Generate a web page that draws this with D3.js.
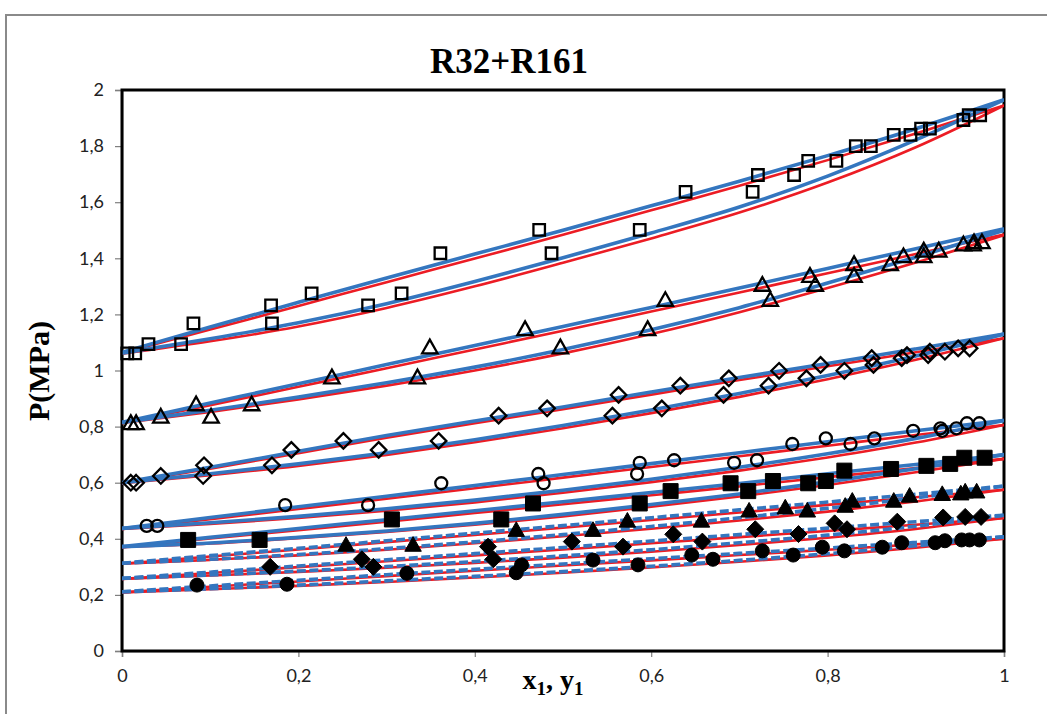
<!DOCTYPE html>
<html><head><meta charset="utf-8">
<script src="https://cdn.jsdelivr.net/npm/d3@7"></script>
<style>
html,body{margin:0;padding:0;background:#fff;}
svg{display:block;}
</style></head>
<body>
<svg id="chart" width="1047" height="714"></svg>
<script>
// ---- axis ticks ----
const xTicks = [0, 0.2, 0.4, 0.6, 0.8, 1];
const xTickLabels = ["0", "0,2", "0,4", "0,6", "0,8", "1"];
const yTicks = [0, 0.2, 0.4, 0.6, 0.8, 1, 1.2, 1.4, 1.6, 1.8, 2];
const yTickLabels = ["0", "0,2", "0,4", "0,6", "0,8", "1", "1,2", "1,4", "1,6", "1,8", "2"];

// ---- composition grid of the model curves (mole fraction R32) ----
const xGrid = [0, 0.1, 0.2, 0.3, 0.4, 0.5, 0.6, 0.7, 0.8, 0.9, 1.0];

// ---- model curves, blue model: bubble (upper) and dew (lower), P in MPa ----
const bubBlue1 = [1.065, 1.155, 1.243, 1.330, 1.415, 1.500, 1.587, 1.675, 1.766, 1.862, 1.965];
const dewBlue1 = [1.062, 1.113, 1.170, 1.238, 1.317, 1.402, 1.490, 1.583, 1.693, 1.822, 1.965];
const bubBlue2 = [0.815, 0.884, 0.953, 1.021, 1.089, 1.157, 1.225, 1.294, 1.364, 1.434, 1.505];
const dewBlue2 = [0.815, 0.858, 0.905, 0.956, 1.012, 1.075, 1.145, 1.224, 1.312, 1.404, 1.500];
const bubBlue3 = [0.600, 0.655, 0.712, 0.768, 0.820, 0.870, 0.923, 0.975, 1.025, 1.077, 1.130];
const dewBlue3 = [0.600, 0.632, 0.667, 0.707, 0.753, 0.804, 0.859, 0.918, 0.982, 1.052, 1.130];
const bubBlue4 = [0.437, 0.476, 0.514, 0.552, 0.590, 0.629, 0.668, 0.707, 0.746, 0.785, 0.822];
const dewBlue4 = [0.437, 0.457, 0.480, 0.507, 0.538, 0.573, 0.612, 0.655, 0.703, 0.758, 0.822];
const bubBlue5 = [0.372, 0.405, 0.437, 0.468, 0.500, 0.532, 0.565, 0.597, 0.632, 0.665, 0.700];
const dewBlue5 = [0.372, 0.385, 0.405, 0.428, 0.455, 0.487, 0.522, 0.560, 0.603, 0.650, 0.700];
const bubBlue6 = [0.313, 0.340, 0.366, 0.393, 0.420, 0.447, 0.475, 0.503, 0.531, 0.559, 0.588];
const dewBlue6 = [0.313, 0.327, 0.344, 0.365, 0.389, 0.415, 0.444, 0.475, 0.509, 0.546, 0.588];
const bubBlue7 = [0.259, 0.281, 0.303, 0.325, 0.347, 0.369, 0.392, 0.415, 0.438, 0.461, 0.484];
const dewBlue7 = [0.259, 0.271, 0.285, 0.301, 0.319, 0.339, 0.361, 0.386, 0.413, 0.445, 0.484];
const bubBlue8 = [0.211, 0.232, 0.252, 0.272, 0.291, 0.310, 0.329, 0.348, 0.367, 0.387, 0.407];
const dewBlue8 = [0.211, 0.222, 0.235, 0.250, 0.266, 0.283, 0.302, 0.323, 0.347, 0.375, 0.407];

// ---- model curves, red model ----
const bubRed1 = [1.062, 1.146, 1.230, 1.315, 1.399, 1.484, 1.571, 1.659, 1.750, 1.845, 1.945];
const dewRed1 = [1.060, 1.104, 1.157, 1.223, 1.300, 1.384, 1.471, 1.563, 1.670, 1.796, 1.945];
const bubRed2 = [0.813, 0.876, 0.942, 1.008, 1.075, 1.142, 1.210, 1.278, 1.347, 1.415, 1.485];
const dewRed2 = [0.813, 0.852, 0.897, 0.946, 1.000, 1.061, 1.130, 1.208, 1.294, 1.385, 1.483];
const bubRed3 = [0.598, 0.650, 0.705, 0.760, 0.812, 0.862, 0.914, 0.966, 1.015, 1.065, 1.115];
const dewRed3 = [0.598, 0.627, 0.660, 0.699, 0.744, 0.794, 0.848, 0.906, 0.969, 1.038, 1.115];
const bubRed4 = [0.435, 0.470, 0.506, 0.543, 0.580, 0.618, 0.656, 0.694, 0.732, 0.770, 0.806];
const dewRed4 = [0.435, 0.453, 0.474, 0.500, 0.530, 0.564, 0.602, 0.643, 0.690, 0.743, 0.806];
const bubRed5 = [0.370, 0.401, 0.431, 0.461, 0.492, 0.523, 0.555, 0.587, 0.620, 0.652, 0.685];
const dewRed5 = [0.370, 0.383, 0.402, 0.424, 0.450, 0.480, 0.514, 0.551, 0.592, 0.637, 0.685];
const bubRed6 = [0.311, 0.337, 0.362, 0.388, 0.414, 0.440, 0.467, 0.494, 0.521, 0.548, 0.575];
const dewRed6 = [0.311, 0.325, 0.341, 0.361, 0.384, 0.409, 0.436, 0.465, 0.497, 0.533, 0.575];
const bubRed7 = [0.257, 0.278, 0.299, 0.320, 0.341, 0.362, 0.384, 0.406, 0.428, 0.450, 0.474];
const dewRed7 = [0.257, 0.269, 0.282, 0.297, 0.314, 0.333, 0.354, 0.378, 0.404, 0.435, 0.474];
const bubRed8 = [0.209, 0.229, 0.248, 0.267, 0.286, 0.305, 0.323, 0.342, 0.361, 0.380, 0.400];
const dewRed8 = [0.209, 0.220, 0.232, 0.246, 0.262, 0.279, 0.298, 0.318, 0.341, 0.368, 0.400];

// ---- experimental points [x1 or y1, P/MPa] ----
const expSquareOpen = [[0.006,1.061],[0.015,1.061],[0.030,1.094],[0.067,1.094],[0.081,1.168],[0.170,1.168],
  [0.169,1.232],[0.279,1.232],[0.215,1.275],[0.317,1.275],[0.361,1.418],[0.487,1.418],[0.473,1.501],[0.587,1.501],
  [0.639,1.637],[0.715,1.637],[0.721,1.697],[0.762,1.697],[0.778,1.747],[0.810,1.747],[0.832,1.800],[0.849,1.800],
  [0.875,1.840],[0.894,1.840],[0.906,1.862],[0.916,1.862],[0.954,1.893],[0.960,1.910],[0.973,1.910]];
const expTriangleOpen = [[0.010,0.815],[0.016,0.815],[0.044,0.838],[0.101,0.838],[0.084,0.882],[0.147,0.882],
  [0.238,0.978],[0.335,0.978],[0.349,1.085],[0.497,1.085],[0.457,1.150],[0.596,1.150],[0.616,1.254],[0.735,1.254],
  [0.726,1.308],[0.786,1.308],[0.780,1.340],[0.830,1.340],[0.830,1.382],[0.871,1.382],[0.886,1.410],[0.909,1.410],
  [0.909,1.430],[0.926,1.430],[0.954,1.452],[0.965,1.452],[0.966,1.460],[0.975,1.460]];
const expDiamondOpen = [[0.010,0.600],[0.016,0.600],[0.044,0.624],[0.092,0.624],[0.093,0.662],[0.170,0.662],
  [0.192,0.717],[0.291,0.717],[0.251,0.749],[0.359,0.749],[0.427,0.839],[0.556,0.839],[0.482,0.865],[0.612,0.865],
  [0.563,0.913],[0.682,0.913],[0.633,0.946],[0.733,0.946],[0.688,0.972],[0.776,0.972],[0.745,0.999],[0.819,0.999],
  [0.792,1.020],[0.852,1.020],[0.850,1.044],[0.884,1.044],[0.890,1.055],[0.914,1.055],[0.916,1.067],[0.933,1.067],
  [0.948,1.079],[0.961,1.079]];
const expCircleOpen = [[0.028,0.446],[0.040,0.446],[0.185,0.520],[0.279,0.520],[0.362,0.598],[0.478,0.598],
  [0.472,0.631],[0.584,0.631],[0.587,0.671],[0.694,0.671],[0.626,0.680],[0.720,0.680],[0.760,0.738],[0.826,0.738],
  [0.798,0.758],[0.853,0.758],[0.897,0.785],[0.930,0.785],[0.928,0.794],[0.946,0.794],[0.958,0.812],[0.972,0.812]];
const expSquareFilled = [[0.075,0.396],[0.156,0.396],[0.306,0.469],[0.430,0.469],[0.466,0.526],[0.587,0.526],
  [0.622,0.570],[0.710,0.570],[0.690,0.598],[0.778,0.598],[0.738,0.606],[0.798,0.606],[0.819,0.643],[0.872,0.649],
  [0.912,0.660],[0.939,0.667],[0.955,0.689],[0.978,0.689]];
const expTriangleFilled = [[0.254,0.381],[0.330,0.381],[0.447,0.434],[0.534,0.434],[0.573,0.467],[0.657,0.467],
  [0.711,0.503],[0.777,0.503],[0.752,0.514],[0.820,0.520],[0.828,0.538],[0.875,0.538],[0.893,0.556],[0.930,0.562],
  [0.951,0.564],[0.956,0.571],[0.969,0.571]];
const expDiamondFilled = [[0.168,0.300],[0.285,0.300],[0.272,0.327],[0.421,0.327],[0.415,0.372],[0.568,0.372],
  [0.510,0.390],[0.658,0.390],[0.625,0.416],[0.767,0.417],[0.718,0.434],[0.822,0.434],[0.808,0.455],[0.879,0.461],
  [0.931,0.476],[0.956,0.478],[0.974,0.478]];
const expCircleFilled = [[0.085,0.235],[0.187,0.238],[0.323,0.277],[0.447,0.279],[0.453,0.307],[0.534,0.324],
  [0.585,0.307],[0.646,0.342],[0.670,0.327],[0.726,0.357],[0.761,0.342],[0.794,0.370],[0.819,0.357],[0.862,0.370],
  [0.884,0.386],[0.922,0.386],[0.933,0.393],[0.952,0.396],[0.961,0.396],[0.972,0.396]];

// ---- isotherm table assembled from the arrays above ----
const isotherms = [
  {pts: expSquareOpen,     shape: "square",   filled: false, dashed: false, blue: [bubBlue1, dewBlue1], red: [bubRed1, dewRed1]},
  {pts: expTriangleOpen,   shape: "triangle", filled: false, dashed: false, blue: [bubBlue2, dewBlue2], red: [bubRed2, dewRed2]},
  {pts: expDiamondOpen,    shape: "diamond",  filled: false, dashed: false, blue: [bubBlue3, dewBlue3], red: [bubRed3, dewRed3]},
  {pts: expCircleOpen,     shape: "circle",   filled: false, dashed: false, blue: [bubBlue4, dewBlue4], red: [bubRed4, dewRed4]},
  {pts: expSquareFilled,   shape: "square",   filled: true,  dashed: false, blue: [bubBlue5, dewBlue5], red: [bubRed5, dewRed5]},
  {pts: expTriangleFilled, shape: "triangle", filled: true,  dashed: true,  blue: [bubBlue6, dewBlue6], red: [bubRed6, dewRed6]},
  {pts: expDiamondFilled,  shape: "diamond",  filled: true,  dashed: true,  blue: [bubBlue7, dewBlue7], red: [bubRed7, dewRed7]},
  {pts: expCircleFilled,   shape: "circle",   filled: true,  dashed: true,  blue: [bubBlue8, dewBlue8], red: [bubRed8, dewRed8]}
];

// ---- layout ----
const W = 1047, H = 714;
const plot = {left: 122, top: 90, right: 1004, bottom: 651};
const BLUE = "#3476bf", RED = "#ec1c24";

const svg = d3.select("#chart");
const x = d3.scaleLinear().domain([0, 1]).range([plot.left, plot.right]);
const y = d3.scaleLinear().domain([0, 2]).range([plot.bottom, plot.top]);

// outer chart frame
svg.append("rect").attr("x", 6).attr("y", 15).attr("width", W + 20).attr("height", H + 20)
  .attr("fill", "#fff").attr("stroke", "#8a8a8a").attr("stroke-width", 2);

// title
svg.append("text").attr("x", 509).attr("y", 73).attr("text-anchor", "middle")
  .attr("font-family", "'Liberation Serif','Times New Roman',serif").attr("font-weight", "bold")
  .attr("font-size", 35).attr("fill", "#000").text("R32+R161");

svg.append("defs").append("clipPath").attr("id", "plotClip")
  .append("rect").attr("x", plot.left).attr("y", plot.top)
  .attr("width", plot.right - plot.left).attr("height", plot.bottom - plot.top);

// axes
const fmtX = d => xTickLabels[xTicks.indexOf(d)];
const fmtY = d => yTickLabels[yTicks.indexOf(d)];
const gx = svg.append("g").attr("transform", `translate(0,${plot.bottom})`)
  .call(d3.axisBottom(x).tickValues(xTicks).tickFormat(fmtX).tickSize(6).tickPadding(12));
const gy = svg.append("g").attr("transform", `translate(${plot.left},0)`)
  .call(d3.axisLeft(y).tickValues(yTicks).tickFormat(fmtY).tickSize(7).tickPadding(11));
[gx, gy].forEach(g => {
  g.select(".domain").attr("stroke", "#7f7f7f").attr("stroke-width", 1.5);
  g.selectAll(".tick line").attr("stroke", "#7f7f7f").attr("stroke-width", 1.2);
  g.selectAll(".tick text").attr("font-family", "Lato, 'Open Sans', sans-serif")
    .attr("font-size", 18).attr("fill", "#222");
});

// plot frame
svg.append("rect").attr("x", plot.left).attr("y", plot.top)
  .attr("width", plot.right - plot.left).attr("height", plot.bottom - plot.top)
  .attr("fill", "none").attr("stroke", "#000").attr("stroke-width", 3);

// axis titles
svg.append("text").attr("transform", "translate(49,371) rotate(-90)").attr("text-anchor", "middle")
  .attr("font-family", "'Liberation Serif','Times New Roman',serif").attr("font-weight", "bold")
  .attr("font-size", 30).attr("fill", "#000").text("P(MPa)");

const xt = svg.append("text").attr("x", 553).attr("y", 689).attr("text-anchor", "middle")
  .attr("font-family", "'Liberation Serif','Times New Roman',serif").attr("font-weight", "bold")
  .attr("font-size", 28).attr("fill", "#000");
xt.append("tspan").text("x");
xt.append("tspan").attr("dy", 6).attr("font-size", 19).text("1");
xt.append("tspan").attr("dy", -6).text(", y");
xt.append("tspan").attr("dy", 6).attr("font-size", 19).text("1");

// model curves
const line = d3.line().x((d, i) => x(xGrid[i])).y(d => y(d)).curve(d3.curveMonotoneX);
const curves = svg.append("g").attr("clip-path", "url(#plotClip)");
isotherms.forEach(iso => {
  iso.red.forEach(arr => {
    curves.append("path").datum(arr).attr("d", line).attr("fill", "none")
      .attr("stroke", RED).attr("stroke-width", 2.6);
  });
});
isotherms.forEach(iso => {
  iso.blue.forEach(arr => {
    curves.append("path").datum(arr).attr("d", line).attr("fill", "none")
      .attr("stroke", BLUE).attr("stroke-width", 3.6)
      .attr("stroke-dasharray", iso.dashed ? "9,3.5" : null);
  });
});

// marker shapes (centred on the bounding box)
function shapePath(shape, s) {
  const h = s / 2;
  if (shape === "square") return `M${-h},${-h}H${h}V${h}H${-h}Z`;
  if (shape === "triangle") return `M0,${-h}L${h * 1.1},${h * 0.95}H${-h * 1.1}Z`;
  if (shape === "diamond") return `M0,${-h}L${h},0L0,${h}L${-h},0Z`;
  const r = h;
  return `M${r},0A${r},${r} 0 1,1 ${-r},0A${r},${r} 0 1,1 ${r},0Z`;
}
const openSize = {square: 11.5, triangle: 14, diamond: 15.5, circle: 12};
const fillSize = {square: 15, triangle: 15, diamond: 17, circle: 14};

const markers = svg.append("g");
isotherms.forEach(iso => {
  const size = iso.filled ? fillSize[iso.shape] : openSize[iso.shape];
  markers.append("g").selectAll("path").data(iso.pts).join("path")
    .attr("transform", d => `translate(${x(d[0])},${y(d[1])})`)
    .attr("d", shapePath(iso.shape, size))
    .attr("fill", iso.filled ? "#000" : "none")
    .attr("stroke", "#000")
    .attr("stroke-width", iso.filled ? 1 : 2.3)
    .attr("stroke-linejoin", "miter");
});
</script>
</body></html>
